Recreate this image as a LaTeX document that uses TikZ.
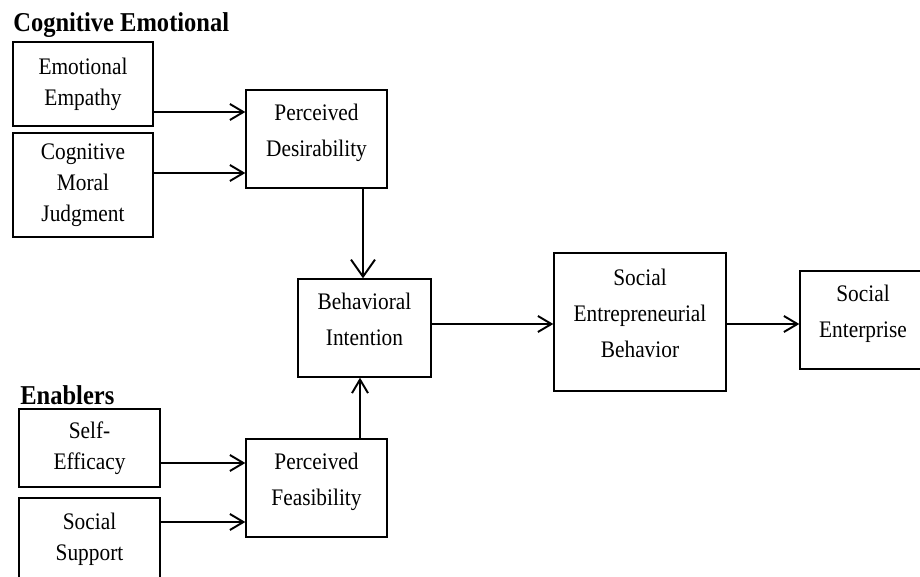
\documentclass[tikz,border=0pt]{standalone}
\usepackage{fontspec}
\setmainfont{Liberation Serif}[FakeStretch=0.9]
\usepackage{tikz}
\usetikzlibrary{arrows.meta}
\tikzset{>={Straight Barb[length=2.7mm,width=3.2mm]}}
\tikzset{
  factor/.style={draw, line width=0.8pt, align=center, inner sep=0pt,
    font=\fontsize{13.5pt}{17.5pt}\selectfont},
  construct/.style={factor, text depth=10pt,
    font=\fontsize{13.5pt}{20.5pt}\selectfont},
  heading/.style={anchor=base west, inner sep=0pt,
    font=\fontsize{15.5pt}{18pt}\selectfont\bfseries},
  link/.style={->, line width=1.1pt},
  biglink/.style={link, >={Straight Barb[length=3.4mm,width=4.8mm]}}
}

\begin{document}
\begin{tikzpicture}[x=0.02cm, y=-0.02cm]
  \useasboundingbox (0,0) rectangle (920,577);
  % Group headings
  \node[heading] (cogem) at (13,32) {Cognitive Emotional};
  \node[heading] (enab) at (20,405) {Enablers};
  % Antecedent boxes on the left
  \node[factor, minimum width=2.8cm, minimum height=1.68cm] (empathy) at (83,84) {Emotional\\Empathy};
  \node[factor, minimum width=2.8cm, minimum height=2.08cm] (moral) at (83,185) {Cognitive\\Moral\\Judgment};
  \node[factor, minimum width=2.82cm, minimum height=1.56cm] (efficacy) at (89.5,448) {Self-\\Efficacy};
  \node[factor, minimum width=2.82cm, minimum height=1.64cm] (support) at (89.5,539) {Social\\Support};
  % Main constructs
  \node[construct, minimum width=2.82cm, minimum height=1.96cm] (desir) at (316.5,139) {Perceived\\Desirability};
  \node[construct, minimum width=2.82cm, minimum height=1.96cm] (feas) at (316.5,488) {Perceived\\Feasibility};
  \node[construct, minimum width=2.66cm, minimum height=1.96cm] (intent) at (364.5,328) {Behavioral\\Intention};
  \node[construct, minimum width=3.44cm, minimum height=2.76cm] (seb) at (640,322) {Social\\Entrepreneurial\\Behavior};
  \node[construct, minimum width=2.52cm, minimum height=1.96cm] (enterprise) at (863,320) {Social\\Enterprise};
  % Arrows into the perceived constructs
  \draw[link] (empathy.east |- 0,112) -- (desir.west |- 0,112);
  \draw[link] (moral.east |- 0,173) -- (desir.west |- 0,173);
  \draw[link] (efficacy.east |- 0,463) -- (feas.west |- 0,463);
  \draw[link] (support.east |- 0,522) -- (feas.west |- 0,522);
  % Arrows into intention and onwards
  \draw[biglink] (desir.south -| 363,0) -- (intent.north -| 363,0);
  \draw[link] (feas.north -| 360,0) -- (intent.south -| 360,0);
  \draw[link] (intent.east |- 0,324) -- (seb.west |- 0,324);
  \draw[link] (seb.east |- 0,324) -- (enterprise.west |- 0,324);
\end{tikzpicture}
\end{document}
